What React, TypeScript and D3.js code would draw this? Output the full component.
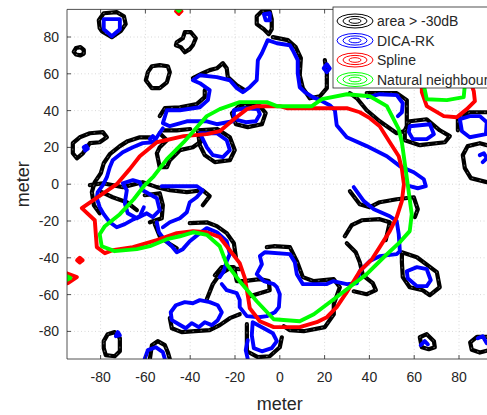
import React from "react";
import * as d3 from "d3";

type P = [number, number];

// ---------- data (meters) ----------
const xTicks = [-80, -60, -40, -20, 0, 20, 40, 60, 80];
const yTicks = [-80, -60, -40, -20, 0, 20, 40, 60, 80];
const legendLabels = ["area > -30dB", "DICA-RK", "Spline", "Natural neighbour"];

const blackLoops: P[][] = [
  [[-80.4,84.8],[-80.8,89.1],[-78.6,92.9],[-72.8,93.5],[-69.6,91.3],[-68.8,87],[-71,83.2],[-75,79.9],[-79.5,83.2]],
  [[-92,72],[-91,74],[-89,74.5],[-87.5,73],[-87.5,71],[-89,70],[-91,70.5]],
  [[-46,77.2],[-43.3,79.3],[-42.4,82.6],[-39.7,82.6],[-37.5,79.3],[-38.8,75.5],[-40.2,73.4],[-42.4,71.7],[-44.2,74.5],[-46.4,75.5]],
  [[-58.9,60.9],[-57.1,64.1],[-53.6,64.7],[-50,64.1],[-49.1,60.9],[-50.4,55.4],[-53.6,52.2],[-57.1,52.2],[-59.8,56.5]],
  [[-92.4,22.3],[-89.3,25.5],[-84.8,27.7],[-79,28.3],[-77.2,25.5],[-80.4,22.8],[-84.8,22.3],[-87.9,16.8],[-90.6,14.1],[-92.4,16.8]],
  [[-10.3,91.3],[-8,94],[-4.5,94],[-3.6,89.7],[-3.6,84.2],[-4.9,81.5],[-7.1,84.2],[-10.3,87]],
  [[-36.6,29.3],[-27.7,29.9],[-22.3,25.5],[-20.1,18.5],[-22.3,13],[-29,12],[-33.5,15.8],[-35.7,21.2]],
  [[-21.4,38.6],[-17.9,42.9],[-8.9,42.4],[-6.3,38.6],[-8,32.6],[-14.3,31],[-19.6,32.6]],
  [[55.8,29.3],[58,34.2],[65.6,35.3],[71.4,29.3],[75.9,26.1],[73.7,22.8],[62.5,21.2],[55.8,23.9]],
  [[54.5,-37],[61.2,-39.7],[70.1,-47.8],[71.4,-56],[67,-60.3],[63.8,-57.6],[58,-56],[54.9,-50.5],[54.5,-42.4]],
  [[62.5,-83.2],[65.6,-81.5],[68.8,-85.3],[69.2,-88.6],[66.5,-89.7],[63.4,-88.6]],
  [[-78.6,-85.3],[-76.8,-81.5],[-73.7,-80.4],[-71.4,-83.7],[-71.4,-90.8],[-73.7,-93.5],[-77.7,-92.9],[-78.6,-89.1]],
];

const blackPaths: P[][] = [
  [[-38.8,57.6],[-34.4,60.3],[-31.3,62],[-28.1,63],[-25.4,65.8],[-23.7,63],[-23.2,58.2],[-19.2,53.8],[-15.6,51.1]],
  [[-53.6,37],[-51.3,41.3],[-44.6,41.8],[-37.1,43.5],[-33.5,47.3],[-33.5,51.1]],
  [[-53.6,27.7],[-50.4,23.9],[-53.6,20.1],[-54.9,16.8],[-53.6,9.2],[-50.4,9.2],[-49.1,13],[-44.6,18.5],[-38.8,20.1],[-34.4,23.9]],
  [[-3.1,79.9],[3.6,78.3],[7.1,74.5],[9.4,68.5],[8.9,59.2],[10.3,52.2],[13.4,46.7],[17.9,47.8],[21,52.2],[21,60.3],[20.1,67.4]],
  [[31.3,49.5],[34.4,46.7],[38.8,40.2],[44.6,34.2],[52.2,27.7],[55.4,28.8]],
  [[38.8,49.5],[52.2,49.5],[56.7,45.7],[56.7,31]],
  [[79.5,29.3],[79.5,35.9],[84.8,39.1],[92.4,39.1]],
  [[92.4,21.2],[89.3,22.3],[83.9,20.7],[81.7,15.8],[82.6,8.7],[85.3,3.3],[92.4,1.1]],
  [[31.3,-3.8],[35.7,-10.9],[40.2,-12.5],[44.6,-9.8],[52.2,-8.2],[59.8,-7.1],[61.6,-13.6],[60.3,-17.9]],
  [[29,-28.3],[32.1,-22.3],[36.6,-19.6],[44.6,-19],[49.1,-20.7],[47.3,-30.4]],
  [[29.9,-32.1],[33.9,-37],[35.7,-42.4],[37.1,-49.5],[41.5,-53.8],[42.9,-57.6],[38.8,-59.8],[33,-58.2]],
  [[-5.8,-34.2],[-2.7,-33.7],[4.5,-34.2],[7.6,-41.8],[10.3,-50.5],[15.2,-52.7],[24.1,-51.6],[26.8,-56],[24.1,-65.2],[24.1,-70.7],[20.1,-77.7],[10.7,-79.9],[4.5,-79.3],[1.8,-77.2]],
  [[-29,-49.5],[-25.9,-45.1],[-20.5,-45.1],[-19.2,-52.7],[-16.1,-52.7],[-8.9,-51.6],[-4.9,-52.7],[-4.5,-57.6],[-13.4,-60.9]],
  [[-40.2,-21.2],[-32.6,-20.7],[-28.1,-22.8],[-23.7,-26.6],[-20.5,-32.1],[-19.6,-39.7]],
  [[-14.7,-76.1],[-14.7,-90.8],[-9.8,-94],[-4.5,-93.5],[0,-88.6],[0.9,-83.2]],
  [[92.4,-83],[88,-83],[85,-86],[85.7,-90],[89.3,-91.5],[92.4,-90.5]],
  [[-58,25.5],[-62.5,25.5],[-67.9,23.4],[-71.4,20.7],[-75.9,16.3],[-78.6,11.4],[-79.9,6],[-82.6,1.1],[-83.9,-4.3],[-83,-11.4],[-80.4,-15.8]],
  [[-84.8,-0.5],[-79,0.5],[-70.1,-1.6],[-61.2,1.1],[-54.9,-1.6],[-49.1,-3.3],[-41.5,-4.3],[-34.4,-3.3],[-31.3,-6.5],[-34.4,-11.4]],
  [[-79.5,-4.3],[-74.6,-7.1],[-68.3,-9.8],[-63.8,-14.1]],
  [[-60.3,-6],[-53.6,-4.9],[-52.2,-11.4],[-52.7,-18.5],[-58,-20.7]],
  [[-55.8,-21.7],[-53.6,-28.3],[-49.1,-32.6],[-46,-34.8]],
  [[-58,-95],[-57.1,-87.5],[-54.5,-85.3],[-51.3,-87.5],[-50,-91.3],[-49.1,-95]],
  [[-49.1,-72.8],[-48.2,-78.3],[-43.8,-80.4],[-37.9,-79.9],[-31.3,-79.3],[-26.8,-76.6],[-22.3,-72.8],[-17.9,-70.7]],
  [[-32.6,-62.5],[-29.9,-54.3],[-26.8,-48.9],[-22.3,-45.7],[-17.9,-46.2]],
  [[-52.2,29.3],[-46,29.3],[-40,30]],
];

const blueLoops: P[][] = [
  [[-78.6,89.7],[-71.4,89.7],[-71.4,84.2],[-75,80.4],[-78.6,84.2]],
  [[-87.5,20.1],[-86.4,20.9],[-85.7,19.3],[-86.9,18.3]],
  [[-58,24.5],[-56.7,26.1],[-55.4,24.5],[-56.7,22.8]],
  [[-20.5,40.2],[-15.6,41.3],[-9.8,40.8],[-8.9,38],[-10.7,34.2],[-15.2,33.7],[-18.8,34.8],[-20.5,37]],
  [[-70.1,0.5],[-65.6,2.2],[-62.5,1.1],[-61.2,-3.3],[-54.9,-7.6],[-53.6,-14.1],[-56.7,-17.9],[-59.4,-15.8],[-63.8,-18.5],[-67.9,-15.8],[-69.2,-10.3],[-68.3,-3.3]],
  [[58,31.5],[67,32.6],[68.8,27.2],[65.6,24.5],[59.4,24.5],[57.6,28.3]],
  [[-35.7,27.7],[-28.1,27.7],[-23.7,23.9],[-22.3,18.5],[-25.4,14.7],[-29.9,15.8],[-32.6,20.1]],
  [[56.7,-47.3],[61.2,-45.1],[65.6,-46.2],[67.4,-52.2],[65.6,-55.4],[61.2,-55.4],[57.1,-51.1]],
  [[-12.1,-75],[-8,-77.7],[-3.1,-81],[-1.3,-85.3],[-3.6,-89.1],[-8,-90.8],[-11.6,-89.1],[-12.5,-82.1]],
  [[-48.7,-69.6],[-46.4,-65.8],[-42.4,-64.1],[-38.8,-64.7],[-35.7,-63],[-31.3,-64.1],[-27.7,-65.8],[-25.9,-69.6],[-27.7,-73.9],[-30.4,-76.6],[-33.5,-75],[-36.2,-77.7],[-39.3,-75.5],[-42,-78.3],[-45.1,-76.1],[-48.2,-73.9]],
  [[-73.2,-82.6],[-72.3,-80.4],[-71.4,-82.1]],
  [[80.4,35.3],[84.8,37],[89.3,37],[92.4,33.7],[92,27.2],[84.8,25.5],[81.3,28.8]],
  [[-7.1,92.4],[-4.5,92.9],[-4.5,89.1],[-6.3,89.1]],
  [[19.6,63],[21,65.2],[22.3,63],[21,60.9]],
];

const bluePaths: P[][] = [
  [[-21,34.2],[-28.1,32.6],[-32.6,34.2],[-41.5,34.2],[-49.1,31.5],[-52.2,33.2],[-50.4,40.2],[-44.6,40.2],[-35.7,41.8],[-32.1,45.7],[-31.3,51.1],[-35.7,54.9],[-38.8,56.5],[-35.7,59.2],[-28.1,58.2],[-22.3,56.5],[-19.2,52.2],[-16.5,50],[-13.4,52.7],[-10.3,56.5],[-9.8,67.4],[-8,71.2],[-5.4,78.3],[-1.3,76.6],[4.5,75.5],[5.8,72.8],[8,67.4],[8,60.3],[8.9,52.7],[11.2,50],[14.7,47.3],[17.9,45.7],[22.3,42.9],[24.6,40.2],[25.4,32.1],[29.9,25.5],[38.8,20.7],[47.8,15.2],[53.6,9.8],[59.8,6.5],[64.3,2.7],[65.2,-1.1],[61.6,-2.2],[58,-1.1]],
  [[-52.2,30.4],[-54.9,25.5],[-56.7,22.8],[-61.2,22.3],[-65.6,20.1],[-70.1,17.4],[-74.6,13],[-75.9,9.2],[-77.2,3.8],[-79,-0.5],[-81.3,-4.3],[-81.7,-7.6],[-80.4,-12.5],[-78.6,-16.3],[-75.9,-20.7],[-72.8,-23.4],[-69.2,-21.7],[-65.2,-19],[-62.5,-17.4],[-60.7,-12.5]],
  [[-52.7,-1.1],[-44.6,-1.1],[-37.1,-1.1],[-34.4,-3.3],[-37.1,-7.1],[-40.2,-9.8],[-41.5,-15.2],[-44.6,-18.5],[-49.1,-20.7],[-52.2,-23.4]],
  [[-54.9,-20.7],[-54,-26.1],[-51.3,-30.4],[-48.2,-33.7],[-46,-37],[-43.3,-35.3],[-40.2,-31],[-35.7,-26.6],[-32.6,-23.9],[-28.1,-26.1],[-23.7,-31],[-22.3,-38],[-23.7,-41.8],[-25,-47.3],[-26.8,-50.5]],
  [[-25.9,-54.3],[-23.7,-57.6],[-19.2,-59.2],[-17.9,-63],[-17.9,-66.8],[-14.7,-71.7],[-9.4,-72.3],[-5.8,-71.7],[-2.2,-69.6],[-0.4,-66.8],[0,-59.8],[-1.3,-56],[-2.7,-54.3],[-7.1,-52.7],[-10.3,-48.9],[-8,-43.5],[-8.9,-39.1],[-6.7,-37],[4.5,-38],[6.7,-42.4],[7.6,-48.9],[10.3,-54.3],[16.5,-54.3],[21,-54.3],[23.7,-52.7],[29.9,-54.3],[34.4,-53.8],[35.7,-47.3],[40.2,-41.8],[44.6,-39.1],[52.2,-38],[53.6,-36.4],[53.1,-27.2],[52.2,-20.1],[49.1,-17.4],[42,-13.6],[37.5,-9.2],[33,-1.6]],
  [[-14.3,-84.8],[-15.2,-90.2],[-14.3,-95]],
  [[-60.3,-95],[-58.9,-90.2],[-55.4,-88.6],[-52.2,-91.3],[-51.3,-95]],
  [[39.3,47.3],[44.6,48.9],[52.2,48.4],[54.9,44],[54.5,39.1],[52.7,37]],
  [[89.3,15.8],[91.1,16.8],[92.4,14.1],[90.6,12]],
  [[62.9,-87.5],[64.7,-85.3],[66.1,-87]],
  [[88.4,-83.7],[90.6,-82.6],[92.4,-86.4]],
];

const redLoops: P[][] = [
  [[-72.8,0],[-88.4,-13],[-82.6,-19.6],[-81.7,-34.2],[-78.1,-37.5],[-74.6,-35.9],[-65.6,-34.2],[-54.9,-30.4],[-46,-26.6],[-38.8,-25.5],[-32.6,-26.1],[-26.8,-28.8],[-22.3,-35.9],[-17.9,-42.9],[-15.6,-51.1],[-14.3,-60.3],[-13.4,-67.4],[-8.9,-74.5],[-2.7,-77.7],[8.9,-77.7],[16.5,-75],[21,-72.3],[25.4,-66.8],[29.9,-58.7],[35.7,-47.3],[41.1,-40.8],[44.6,-34.2],[49.1,-25.5],[52.2,-17.9],[54.5,-9.2],[55.4,0],[54.5,8.2],[53.1,15.2],[49.1,22.8],[44.6,31.5],[40.2,35.9],[35.7,39.1],[29.9,41.3],[3.1,41.3],[0,42.4],[-10.3,42.4],[-14.7,40.8],[-20.5,35.3],[-26.8,28.8],[-32.6,27.2],[-42.9,26.1],[-54.9,22.8],[-62.5,15.2],[-67,8.2]],
  [[63.4,53.8],[63.4,50],[65.6,42.4],[73.2,37],[79,36.4],[83.5,40.8],[87.1,45.1],[86.6,50.5],[84.8,56.5],[73.7,57.6],[64.7,56.5]],
  [[-95.1,-48.4],[-90.6,-50.5],[-94.6,-53.8]],
  [[-90.5,-41.3],[-89.3,-40],[-88,-41.3],[-89.3,-42.6]],
  [[-46.3,94],[-45.1,92.5],[-43.9,94],[-45.1,95.5]],
];

const greenLoops: P[][] = [
  [[-80.4,-27.2],[-79.5,-33.7],[-73.7,-36.4],[-63.8,-35.3],[-58,-33.7],[-50.4,-29.9],[-44.6,-28.3],[-38.4,-26.1],[-32.6,-27.5],[-26.8,-33.7],[-23.7,-43.5],[-17.9,-52.7],[-10.3,-63.6],[-2.7,-73.4],[8.9,-74.5],[15.2,-70.7],[24.1,-62.5],[29.9,-57.1],[38.8,-48.9],[46.4,-39.7],[53.6,-31.5],[58,-25.5],[58.9,-16.3],[57.1,0],[54.5,22.8],[53.1,29.9],[47.8,42.4],[40.2,47.8],[29.9,48.9],[18.8,46.2],[14.3,42.4],[-1.3,42.4],[-5.8,44.6],[-17.9,44.6],[-26.8,40.8],[-32.6,37],[-42.9,22.8],[-50.4,13.6],[-56.3,4.3],[-60.7,-1.1],[-65.2,-8.2],[-71.4,-16.3],[-78.1,-22.8]],
  [[64.3,53.8],[65.6,46.2],[74.6,45.7],[82.1,47.3],[82.6,53.8],[80.4,56.5],[67,56.5]],
  [[-95,-50],[-93.5,-51],[-95,-52]],
  [[-45.8,95],[-44.4,95],[-45.1,94.2]],
];

// ---------- component ----------
export default function App() {
  const W = 487, H = 415;
  const left = 67, right = 492.6, top = 9.4, bottom = 359;
  const x = d3.scaleLinear().domain([-95, 95]).range([left, right]);
  const y = d3.scaleLinear().domain([-95, 95]).range([bottom, top]);
  const line = d3.line<P>().x(d => x(d[0])).y(d => y(d[1]));
  const loop = d3.line<P>().x(d => x(d[0])).y(d => y(d[1])).curve(d3.curveLinearClosed);
  const axisColor = "#262626";
  const font = "'Liberation Sans', Arial, Helvetica, sans-serif";

  const layer = (loops: P[][], paths: P[][], color: string, sw: number, dots: boolean) => (
    <g fill="none" stroke={color} strokeWidth={sw} strokeLinejoin="round" strokeLinecap="round">
      {loops.map((l, i) => <path key={"l" + i} d={loop(l) || ""} />)}
      {paths.map((l, i) => <path key={"p" + i} d={line(l) || ""} />)}
      {dots && (
        <g stroke="#ffffff" strokeWidth={0.7} strokeDasharray="1,7" opacity={0.55}>
          {loops.map((l, i) => <path key={"dl" + i} d={loop(l) || ""} />)}
          {paths.map((l, i) => <path key={"dp" + i} d={line(l) || ""} />)}
        </g>
      )}
    </g>
  );

  const legX = 333, legY = 7, rowH = 19.5;
  const legColors = ["#000000", "#0000ff", "#ff0000", "#00ff00"];

  return (
    <svg width={W} height={H} style={{ position: "absolute", left: 0, top: 0, background: "#fff" }}>
      <defs>
        <clipPath id="plotclip">
          <rect x={left} y={top} width={right - left} height={bottom - top} />
        </clipPath>
      </defs>
      <rect x={0} y={0} width={W} height={H} fill="#fff" />
      <g stroke="#c8c8c8" strokeWidth={0.7} strokeDasharray="1,2.5">
        {xTicks.map(t => <line key={"gx" + t} x1={x(t)} x2={x(t)} y1={top} y2={bottom} />)}
        {yTicks.map(t => <line key={"gy" + t} y1={y(t)} y2={y(t)} x1={left} x2={right} />)}
      </g>
      <g clipPath="url(#plotclip)">
        {layer(blackLoops, blackPaths, "#000000", 4.2, true)}
        {layer(blueLoops, bluePaths, "#0000ff", 3.9, false)}
        {layer(redLoops, [], "#ff0000", 3.9, false)}
        {layer(greenLoops, [], "#00ff00", 3.9, false)}
      </g>
      <g stroke={axisColor} strokeWidth={0.8} fill="none">
        <line x1={left} x2={right} y1={bottom} y2={bottom} />
        <line x1={left} x2={left} y1={top} y2={bottom} />
        <line x1={left} x2={right} y1={top} y2={top} />
        {xTicks.map(t => <line key={"tx" + t} x1={x(t)} x2={x(t)} y1={bottom} y2={bottom - 4} />)}
        {xTicks.map(t => <line key={"ttx" + t} x1={x(t)} x2={x(t)} y1={top} y2={top + 4} />)}
        {yTicks.map(t => <line key={"ty" + t} x1={left} x2={left + 4} y1={y(t)} y2={y(t)} />)}
      </g>
      <g fill={axisColor} fontFamily={font} fontSize={14}>
        {xTicks.map(t => (
          <text key={"lx" + t} x={x(t)} y={bottom + 23} textAnchor="middle">{t}</text>
        ))}
        {yTicks.map(t => (
          <text key={"ly" + t} x={left - 8} y={y(t) + 5} textAnchor="end">{t}</text>
        ))}
      </g>
      <text x={x(0)} y={410} textAnchor="middle" fontFamily={font} fontSize={18} fill={axisColor}>meter</text>
      <text transform={`translate(29, ${y(0)}) rotate(-90)`} textAnchor="middle" fontFamily={font} fontSize={18} fill={axisColor}>meter</text>
      <g>
        <rect x={legX} y={legY} width={170} height={81} fill="#fff" stroke={axisColor} strokeWidth={0.8} />
        {legendLabels.map((lab, i) => {
          const cy = legY + 14 + i * rowH;
          const cx = legX + 22;
          return (
            <g key={lab}>
              <g fill="none" stroke={legColors[i]} strokeWidth={1}>
                <ellipse cx={cx} cy={cy} rx={18} ry={7} />
                <ellipse cx={cx} cy={cy} rx={12} ry={4.6} />
                <ellipse cx={cx} cy={cy} rx={6} ry={2.3} />
              </g>
              <text x={legX + 44} y={cy + 5} fontFamily={font} fontSize={14} fill={axisColor}>{lab}</text>
            </g>
          );
        })}
      </g>
    </svg>
  );
}
